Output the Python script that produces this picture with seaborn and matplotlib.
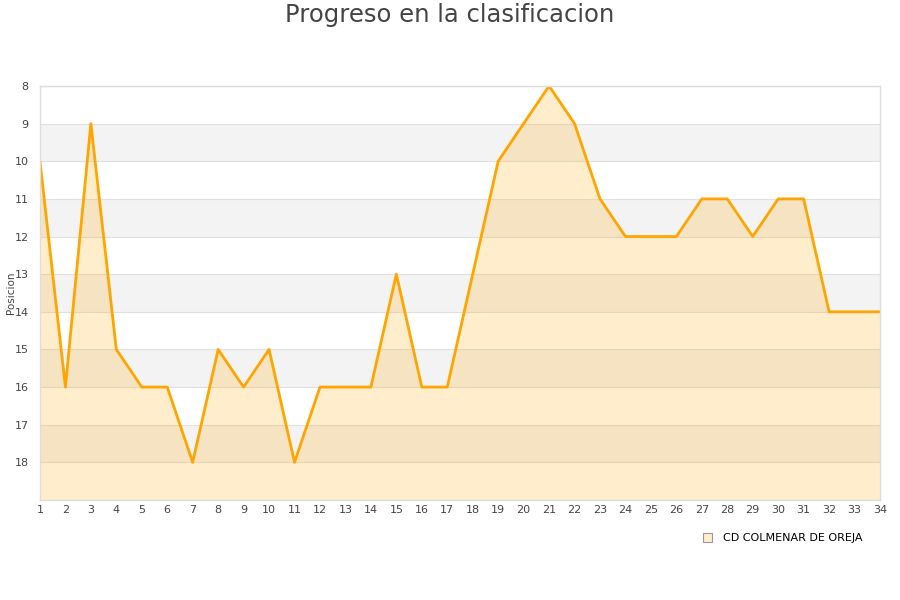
import pandas as pd
import seaborn as sns
import matplotlib
matplotlib.use('Agg')
import matplotlib.pyplot as plt

# posicion por jornada
jornadas = list(range(1, 35))
posiciones = [10, 16, 9, 15, 16, 16, 18, 15, 16, 15, 18, 16, 16, 16, 13, 16, 16,
              13, 10, 9, 8, 9, 11, 12, 12, 12, 11, 11, 12, 11, 11, 14, 14, 14]
equipo = 'CD COLMENAR DE OREJA'
y_ticks = list(range(8, 19))

df = pd.DataFrame({'jornada': jornadas, 'posicion': posiciones})

sns.set_style('white')
plt.rcParams['font.family'] = ['DejaVu Sans']

fig = plt.figure(figsize=(9, 6), dpi=100)
ax = fig.add_axes([0.0444, 0.1667, 0.9334, 0.69])

# bandas alternas de fondo
for y0 in range(9, 19, 2):
    ax.axhspan(y0, y0 + 1, color='#f3f3f3', zorder=0, lw=0)
for y in range(8, 20):
    ax.axhline(y, color='#e0e0e0', lw=0.8, zorder=0.5)

ax.fill_between(df['jornada'], df['posicion'], 19, color='#FFA500', alpha=0.2,
                lw=0, zorder=1)
sns.lineplot(data=df, x='jornada', y='posicion', ax=ax, color='#FFA500', lw=2,
             zorder=2, legend=False)

ax.set_xlim(1, 34)
ax.set_ylim(19, 8)
ax.set_xticks(jornadas)
ax.set_yticks(y_ticks)
ax.tick_params(axis='both', length=0, labelsize=8, colors='#444444')
ax.tick_params(axis='y', pad=8)
ax.set_xlabel('')
ax.set_ylabel('Posicion', fontsize=7.5, color='#444444')
ax.yaxis.set_label_coords(-0.028, 0.5)
for s in ax.spines.values():
    s.set_color('#dddddd')
    s.set_linewidth(1)

fig.suptitle('Progreso en la clasificacion', fontsize=17.5, color='#444444', y=0.995)

handle = plt.Rectangle((0, 0), 1, 1, facecolor='#FFEDCC', edgecolor='#999999', lw=0.8)
fig.legend([handle], [equipo], loc='center', bbox_to_anchor=(0.87, 0.103), frameon=False,
           fontsize=8, handlelength=0.8, handleheight=0.8, handletextpad=1.0,
           labelcolor='black')

fig.savefig('out.png', dpi=100)
